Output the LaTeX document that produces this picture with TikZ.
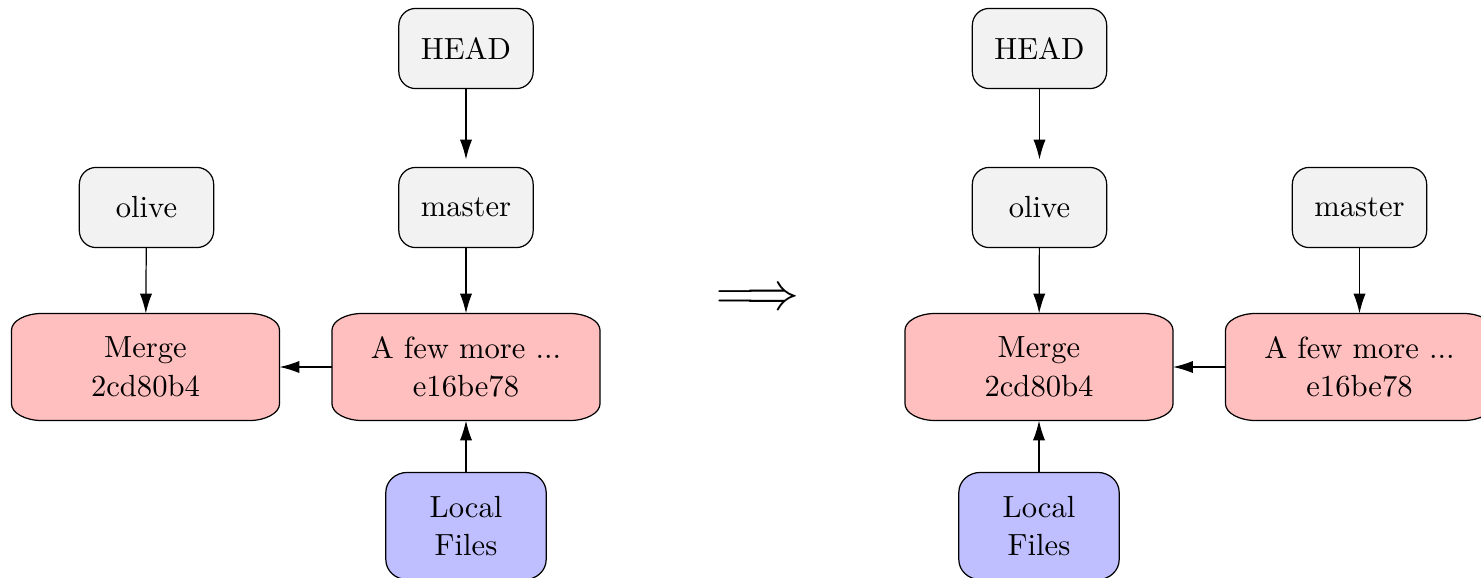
\documentclass[tikz,border=0pt]{standalone}
\usetikzlibrary{arrows.meta,backgrounds}
% outline of a node with elliptical corners: name, x radius, y radius, fill
\newcommand\boxoutline[4]{%
  \draw[fill=#4, thin]
    ([xshift=#2]#1.north west) -- ([xshift=-#2]#1.north east)
    arc[start angle=90, end angle=0, x radius=#2, y radius=#3]
    -- ([yshift=#3]#1.south east)
    arc[start angle=0, end angle=-90, x radius=#2, y radius=#3]
    -- ([xshift=#2]#1.south west)
    arc[start angle=270, end angle=180, x radius=#2, y radius=#3]
    -- ([yshift=-#3]#1.north west)
    arc[start angle=180, end angle=90, x radius=#2, y radius=#3]
    -- cycle;}
\newcommand\refoutline[1]{\boxoutline{#1}{5.5pt}{5.5pt}{black!5}}
\newcommand\commitoutline[1]{\boxoutline{#1}{10pt}{5.5pt}{red!25}}
\newcommand\filesoutline[1]{\boxoutline{#1}{7pt}{6.5pt}{blue!25}}
\begin{document}
\begin{tikzpicture}[x=0.3268pt,y=-0.3268pt,
  box/.style={align=center, inner sep=0pt, font=\normalsize},
  ref/.style={box, minimum width=43.5pt, minimum height=25.8pt},
  commit/.style={box, minimum width=87.2pt, minimum height=34.6pt},
  files/.style={box, minimum width=52pt, minimum height=34.6pt},
  link/.style={-{Latex[length=6.5pt,width=4pt]}, thin},
  gap/.style={shorten >=2.6pt}]
\useasboundingbox (0,0) rectangle (1481,577);
% before
\node[ref] (headA) at (466,48.5) {HEAD};
\node[ref] (masterA) at (466,207.5) {master};
\node[ref] (oliveA) at (146.5,207.5) {olive};
\node[commit] (mergeA) at (145.5,367) {Merge\\[0.6pt]2cd80b4};
\node[commit] (fewA) at (466,367) {A few more ...\\[0.6pt]e16be78};
\node[files] (localA) at (466,526) {Local\\[0.6pt]Files};
% transition
\node (implies) at (758,300) {\LARGE$\Longrightarrow$};
% after
\node[ref] (headB) at (1039.5,48.5) {HEAD};
\node[ref] (oliveB) at (1039.5,207.5) {olive};
\node[ref] (masterB) at (1359.5,207.5) {master};
\node[commit] (mergeB) at (1039,367) {Merge\\[0.6pt]2cd80b4};
\node[commit] (fewB) at (1359.5,367) {A few more ...\\[0.6pt]e16be78};
\node[files] (localB) at (1039,526) {Local\\[0.6pt]Files};
\begin{pgfonlayer}{background}
  \refoutline{headA}\refoutline{masterA}\refoutline{oliveA}
  \commitoutline{mergeA}\commitoutline{fewA}\filesoutline{localA}
  \refoutline{headB}\refoutline{oliveB}\refoutline{masterB}
  \commitoutline{mergeB}\commitoutline{fewB}\filesoutline{localB}
\end{pgfonlayer}
% connectors
\draw[link,gap] (headA) -- (masterA);
\draw[link] (masterA) -- (fewA);
\draw[link] (oliveA) -- (mergeA);
\draw[link] (fewA) -- (mergeA);
\draw[link] (localA) -- (fewA);
\draw[link,gap] (headB) -- (oliveB);
\draw[link] (oliveB) -- (mergeB);
\draw[link] (masterB) -- (fewB);
\draw[link] (fewB) -- (mergeB);
\draw[link] (localB) -- (mergeB);
\end{tikzpicture}
\end{document}
